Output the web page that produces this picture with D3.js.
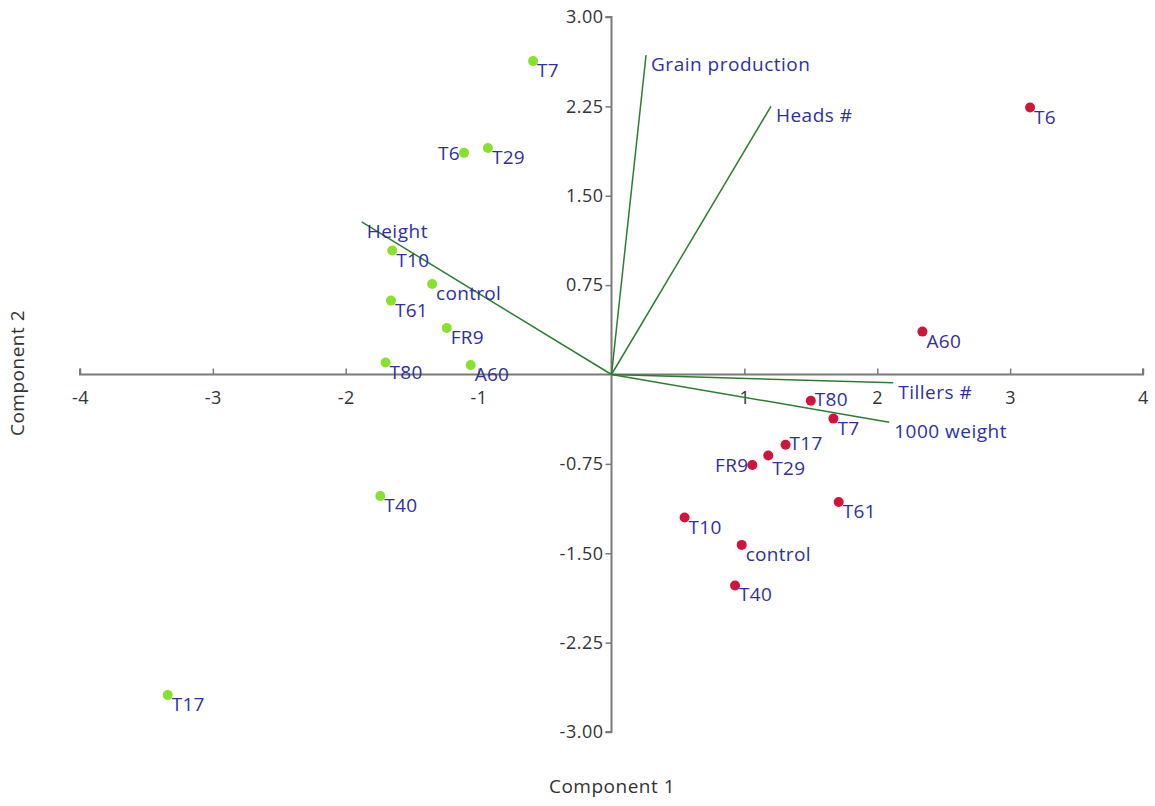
<!DOCTYPE html>
<html><head><meta charset="utf-8">
<script src="https://cdn.jsdelivr.net/npm/d3@7"></script>
<style>
body{margin:0;background:#fff;}
text{font-family:"Open Sans","Noto Sans",sans-serif;}
</style></head>
<body><svg id="c" width="1155" height="806"></svg>
<script>
// Scores for group A (green)
const greenNames = ["T7","T6","T29","T10","control","T61","FR9","T80","A60","T40","T17"];
const greenX = [-0.59,-1.11,-0.93,-1.65,-1.35,-1.66,-1.24,-1.70,-1.06,-1.74,-3.34];
const greenY = [2.63,1.86,1.90,1.04,0.76,0.62,0.39,0.10,0.08,-1.02,-2.69];
// Scores for group B (red)
const redNames = ["T6","A60","T80","T7","T17","T29","FR9","T61","T10","control","T40"];
const redX = [3.15,2.34,1.50,1.67,1.31,1.18,1.06,1.71,0.55,0.98,0.93];
const redY = [2.24,0.36,-0.22,-0.37,-0.59,-0.68,-0.76,-1.07,-1.20,-1.43,-1.77];
// Loadings
const loadNames = ["Grain production","Heads #","Height","Tillers #","1000 weight"];
const loadX = [0.26,1.20,-1.88,2.12,2.09];
const loadY = [2.68,2.25,1.28,-0.07,-0.40];
// Ticks
const xTicks = [-4,-3,-2,-1,1,2,3,4];
const yTicks = [3.00,2.25,1.50,0.75,-0.75,-1.50,-2.25,-3.00];
const leftLabelled = ["green:T6","red:FR9"];
const raisedLabelled = ["red:T80","red:T17"];
const loweredLabelled = ["red:T29"];

const svg = d3.select("#c");
const x = d3.scaleLinear().domain([-4,4]).range([80,1143]);
const y = d3.scaleLinear().domain([-3,3]).range([732,17]);

const axisColor = "#7a7a7a";
const labelColor = "#2f2fa8";
const fmtX = d => String(d);
const fmtY = d => d.toFixed(2);

// x axis
const xa = svg.append("g").attr("transform",`translate(0,${y(0)})`)
  .call(d3.axisTop(x).tickValues(xTicks).tickSize(6).tickFormat(fmtX));
xa.select(".domain").attr("stroke",axisColor).attr("stroke-width",2).attr("d",`M${x(-4)},-6V0H${x(4)}V-6`);
xa.selectAll(".tick line").attr("stroke",axisColor).attr("stroke-width",1.5);
xa.selectAll(".tick text").attr("y",17).attr("dy","0.71em").attr("fill","#333")
  .attr("font-size",18).attr("letter-spacing","0.5px").attr("font-family","'Open Sans',sans-serif");

// y axis
const ya = svg.append("g").attr("transform",`translate(${x(0)},0)`)
  .call(d3.axisLeft(y).tickValues(yTicks).tickSize(6).tickFormat(fmtY));
ya.select(".domain").attr("stroke",axisColor).attr("stroke-width",2).attr("d",`M-6,${y(3)}H0V${y(-3)}H-6`);
ya.selectAll(".tick line").attr("stroke",axisColor).attr("stroke-width",1.5);
ya.selectAll(".tick text").attr("x",-8).attr("fill","#333")
  .attr("font-size",18).attr("letter-spacing","0.5px").attr("font-family","'Open Sans',sans-serif");

// titles
svg.append("text").attr("x",612).attr("y",793).attr("text-anchor","middle")
  .attr("font-size",19).attr("letter-spacing","0.5px").attr("fill","#333").text("Component 1");
svg.append("text").attr("transform","translate(24,373) rotate(-90)").attr("text-anchor","middle")
  .attr("font-size",19).attr("letter-spacing","0.5px").attr("fill","#333").text("Component 2");

// loading vectors
const loads = loadNames.map((n,i)=>({n,x:loadX[i],y:loadY[i]}));
svg.append("g").selectAll("line").data(loads).join("line")
  .attr("x1",x(0)).attr("y1",y(0)).attr("x2",d=>x(d.x)).attr("y2",d=>y(d.y))
  .attr("stroke","#2e7d32").attr("stroke-width",1.5);
svg.append("g").selectAll("text").data(loads).join("text")
  .attr("x",d=>x(d.x)+5).attr("y",d=>y(d.y)+16)
  .attr("font-size",19).attr("letter-spacing","0.5px").attr("fill",labelColor).text(d=>d.n);

function drawGroup(names,xs,ys,color,key){
  const pts = names.map((n,i)=>{
    const k = key+":"+n;
    return {n,x:xs[i],y:ys[i],left:leftLabelled.includes(k),
      raised:raisedLabelled.includes(k),lowered:loweredLabelled.includes(k)};
  });
  const g = svg.append("g");
  g.selectAll("circle").data(pts).join("circle")
    .attr("cx",d=>x(d.x)).attr("cy",d=>y(d.y)).attr("r",5).attr("fill",color);
  g.selectAll("text").data(pts).join("text")
    .attr("x",d=>d.left? x(d.x)-4 : x(d.x)+4)
    .attr("y",d=>d.left? y(d.y)+7 : d.raised ? y(d.y)+5 : d.lowered ? y(d.y)+19 : y(d.y)+16)
    .attr("text-anchor",d=>d.left?"end":"start")
    .attr("font-size",19).attr("letter-spacing","0.3px").attr("fill",labelColor).text(d=>d.n);
}
drawGroup(greenNames,greenX,greenY,"#86e22c","green");
drawGroup(redNames,redX,redY,"#d2143c","red");
</script></body></html>
